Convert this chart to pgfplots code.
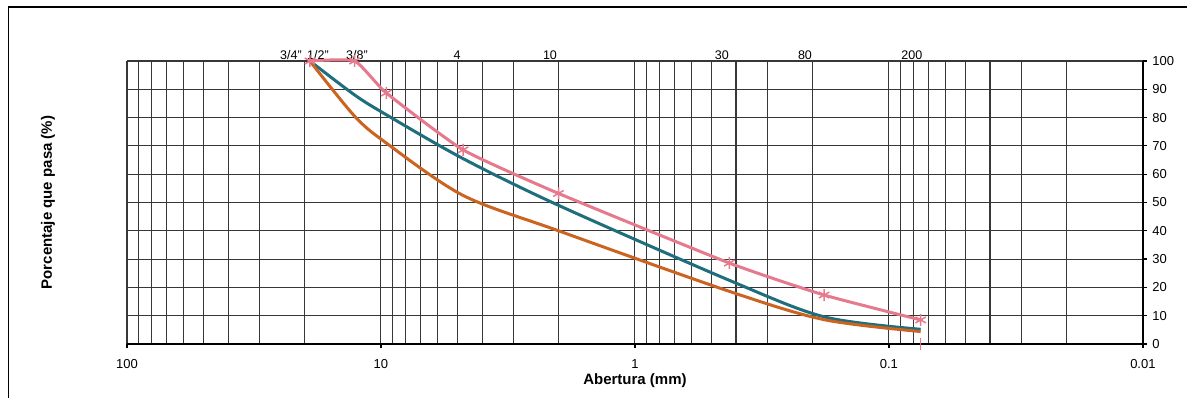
\documentclass[border=0pt]{standalone}
\usepackage{fontspec}
\setmainfont{Liberation Sans}
\usepackage{pgfplots}
\pgfplotsset{compat=1.18}
\definecolor{pinkc}{RGB}{230,122,140}
\definecolor{tealc}{RGB}{30,110,125}
\definecolor{orangec}{RGB}{202,100,32}
\definecolor{gridc}{RGB}{55,55,55}
\begin{document}
\begin{tikzpicture}[x=1pt,y=1pt]
\useasboundingbox (0,0) rectangle (1187,398);
\draw[line width=1.6pt] (8.3,-5) -- (8.3,391) -- (1195,391);
\begin{axis}[
  at={(127pt,54pt)}, anchor=south west,
  scale only axis, width=1016pt, height=283pt,
  xmode=log, x dir=reverse, xmin=0.01, xmax=100,
  ymin=0, ymax=100, ytick={0,10,...,100},
  xtick={100,10,1,0.1,0.01}, xticklabels={100,10,1,0.1,0.01},
  minor xtick={0.02,0.03,0.04,0.05,0.06,0.07,0.08,0.09,0.2,0.3,0.4,0.5,0.6,0.7,0.8,0.9,2,3,4,5,6,7,8,9,20,30,40,50,60,70,80,90},
  axis x line*=bottom, axis y line*=right,
  grid=both,
  major grid style={gridc, line width=1.05pt},
  minor grid style={gridc, line width=1.05pt},
  tick align=outside, major tick length=4pt, minor tick length=0pt,
  tick style={black, line width=1.2pt},
  axis line style={black, line width=1.6pt},
  ticklabel style={font=\fontsize{13}{15}\selectfont},
  xticklabel style={yshift=-8pt},
  yticklabel style={xshift=2pt},
  /pgf/number format/assume math mode=true,
  xlabel={Abertura (mm)},
  xlabel style={at={(axis description cs:0.5,-0.1305)}, anchor=center, font=\bfseries\fontsize{15}{17}\selectfont},
  ylabel={Porcentaje que pasa (\%)},
  ylabel style={at={(axis description cs:-0.0778,0.5)}, anchor=center, font=\bfseries\fontsize{15}{17}\selectfont},
  clip=false,
]
\addplot[tealc, line width=3pt, smooth, tension=0.5] coordinates {
(19.05,100) (12.7,88) (9.525,81) (4.75,65.5) (2.0,49) (0.425,22.5) (0.18,9.6) (0.075,5.2)};
\addplot[orangec, line width=3pt, smooth, tension=0.5] coordinates {
(19.05,100) (12.7,80.5) (9.525,71) (4.75,52.5) (2.0,40) (0.425,18.6) (0.18,8.6) (0.075,4.4)};
\addplot[pinkc, line width=3pt, smooth, tension=0.3, mark=asterisk, mark size=6pt, mark options={line width=1.5pt}] coordinates {
(19.05,100) (12.7,100) (9.525,88.7) (4.75,68.6) (2.0,53.2) (0.425,28.6) (0.18,17.3) (0.075,8.5)};
\addplot[pinkc, only marks, mark=|, mark size=6pt, mark options={line width=1.5pt}] coordinates {(0.075,0)};
\begin{scope}[every node/.style={anchor=south, inner sep=0pt, yshift=1pt, font=\fontsize{12.5}{14}\selectfont}]
\node at (axis cs:22.61,100) {3/4"};
\node at (axis cs:17.70,100) {1/2"};
\node at (axis cs:12.43,100) {3/8"};
\node at (axis cs:5.02,100) {4};
\node at (axis cs:2.161,100) {10};
\node at (axis cs:0.4545,100) {30};
\node at (axis cs:0.2141,100) {80};
\node at (axis cs:0.0812,100) {200};
\end{scope}
\end{axis}
\end{tikzpicture}
\end{document}
